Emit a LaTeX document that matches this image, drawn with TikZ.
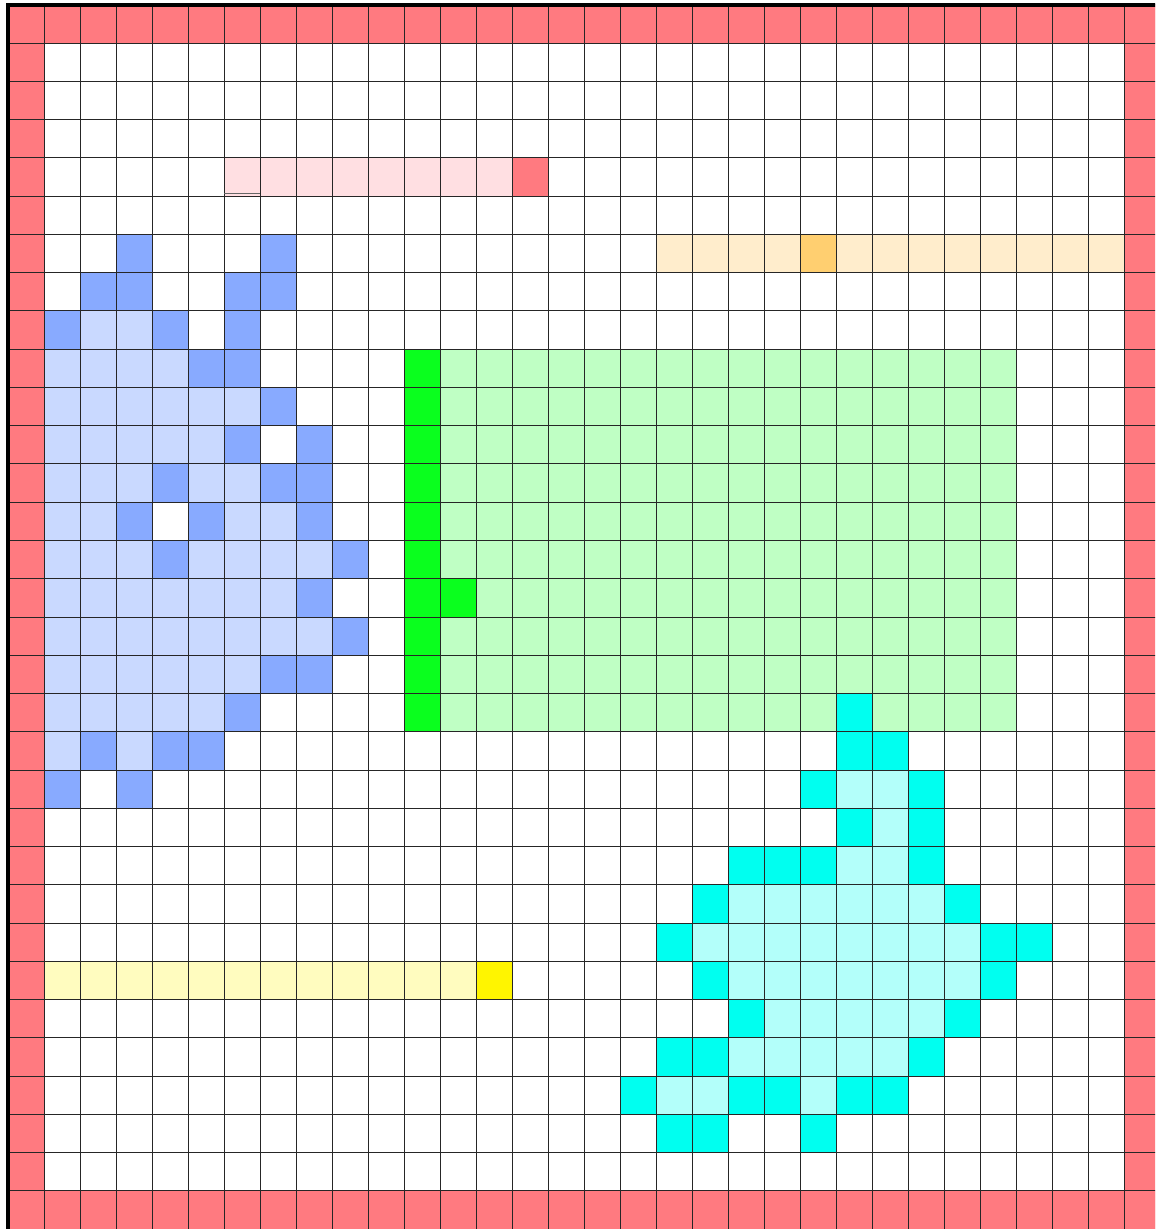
\documentclass[tikz,border=0pt]{standalone}
\usepackage{xcolor}
\usetikzlibrary{calc}

\definecolor{wallred}{RGB}{255,122,128}
\definecolor{pinklt}{RGB}{255,223,226}
\definecolor{orangelt}{RGB}{255,237,204}
\definecolor{orangedk}{RGB}{255,207,112}
\definecolor{bluedk}{RGB}{136,170,255}
\definecolor{bluelt}{RGB}{201,217,255}
\definecolor{greendk}{RGB}{10,255,30}
\definecolor{greenlt}{RGB}{191,255,196}
\definecolor{cyandk}{RGB}{0,255,240}
\definecolor{cyanlt}{RGB}{179,255,250}
\definecolor{yellowlt}{RGB}{255,252,191}
\definecolor{yellowdk}{RGB}{255,245,0}

\begin{document}
\begin{tikzpicture}[x=18pt,y=-19.125pt]
  \useasboundingbox (-0.2222,-0.1307) rectangle (31.861,32);
  \clip (-0.2222,-0.1307) rectangle (31.861,32);
  % walls
  \fill[wallred] (0,0) rectangle (32,1);
  \fill[wallred] (0,31) rectangle (32,32);
  \fill[wallred] (0,0) rectangle (1,32);
  \fill[wallred] (31,0) rectangle (32,32);
  % bars
  \fill[pinklt] (6,4) rectangle (14,5);
  \fill[wallred] (14,4) rectangle (15,5);
  \fill[orangelt] (18,6) rectangle (31,7);
  \fill[orangedk] (22,6) rectangle (23,7);
  \fill[yellowlt] (1,25) rectangle (13,26);
  \fill[yellowdk] (13,25) rectangle (14,26);
  % green block
  \fill[greenlt] (12,9) rectangle (28,19);
  \fill[greendk] (11,9) rectangle (12,19);
  \fill[greendk] (12,15) rectangle (13,16);
  % blue blob
  \foreach \r/\a/\b in {8/2/3,9/1/4,10/1/6,11/1/5,12/1/3,12/5/6,13/1/2,13/6/7,
                        14/1/3,14/5/8,15/1/7,16/1/8,17/1/6,18/1/5,19/1/1,19/3/3}
    \fill[bluelt] (\a,\r) rectangle (\b+1,\r+1);
  \foreach \c/\r in {3/6,7/6,2/7,3/7,6/7,7/7,1/8,4/8,6/8,5/9,6/9,7/10,6/11,8/11,
                     4/12,7/12,8/12,3/13,5/13,8/13,4/14,9/14,8/15,9/16,7/17,8/17,
                     6/18,2/19,4/19,5/19,1/20,3/20}
    \fill[bluedk] (\c,\r) rectangle ++(1,1);
  % cyan blob
  \foreach \r/\a/\b in {20/23/24,21/24/24,22/23/24,23/20/25,24/19/26,25/20/26,
                        26/21/25,27/20/24,28/18/19,28/22/22}
    \fill[cyanlt] (\a,\r) rectangle (\b+1,\r+1);
  \foreach \c/\r in {23/18,23/19,24/19,22/20,25/20,23/21,25/21,20/22,21/22,22/22,
                     25/22,19/23,26/23,18/24,27/24,28/24,19/25,27/25,20/26,26/26,
                     18/27,19/27,25/27,17/28,20/28,21/28,23/28,24/28,18/29,19/29,22/29}
    \fill[cyandk] (\c,\r) rectangle ++(1,1);
  % grid
  \foreach \i in {0,...,32} {
    \draw[black!85,line width=0.5pt] (\i,0) -- (\i,32);
    \draw[black!85,line width=0.5pt] (0,\i) -- (32,\i);
  }
  \draw[black!60,line width=0.6pt] (6,4.92) -- (7,4.92);
  \draw[black,line width=1.6pt] (0,32) -- (0,0) -- (32,0);
\end{tikzpicture}
\end{document}
